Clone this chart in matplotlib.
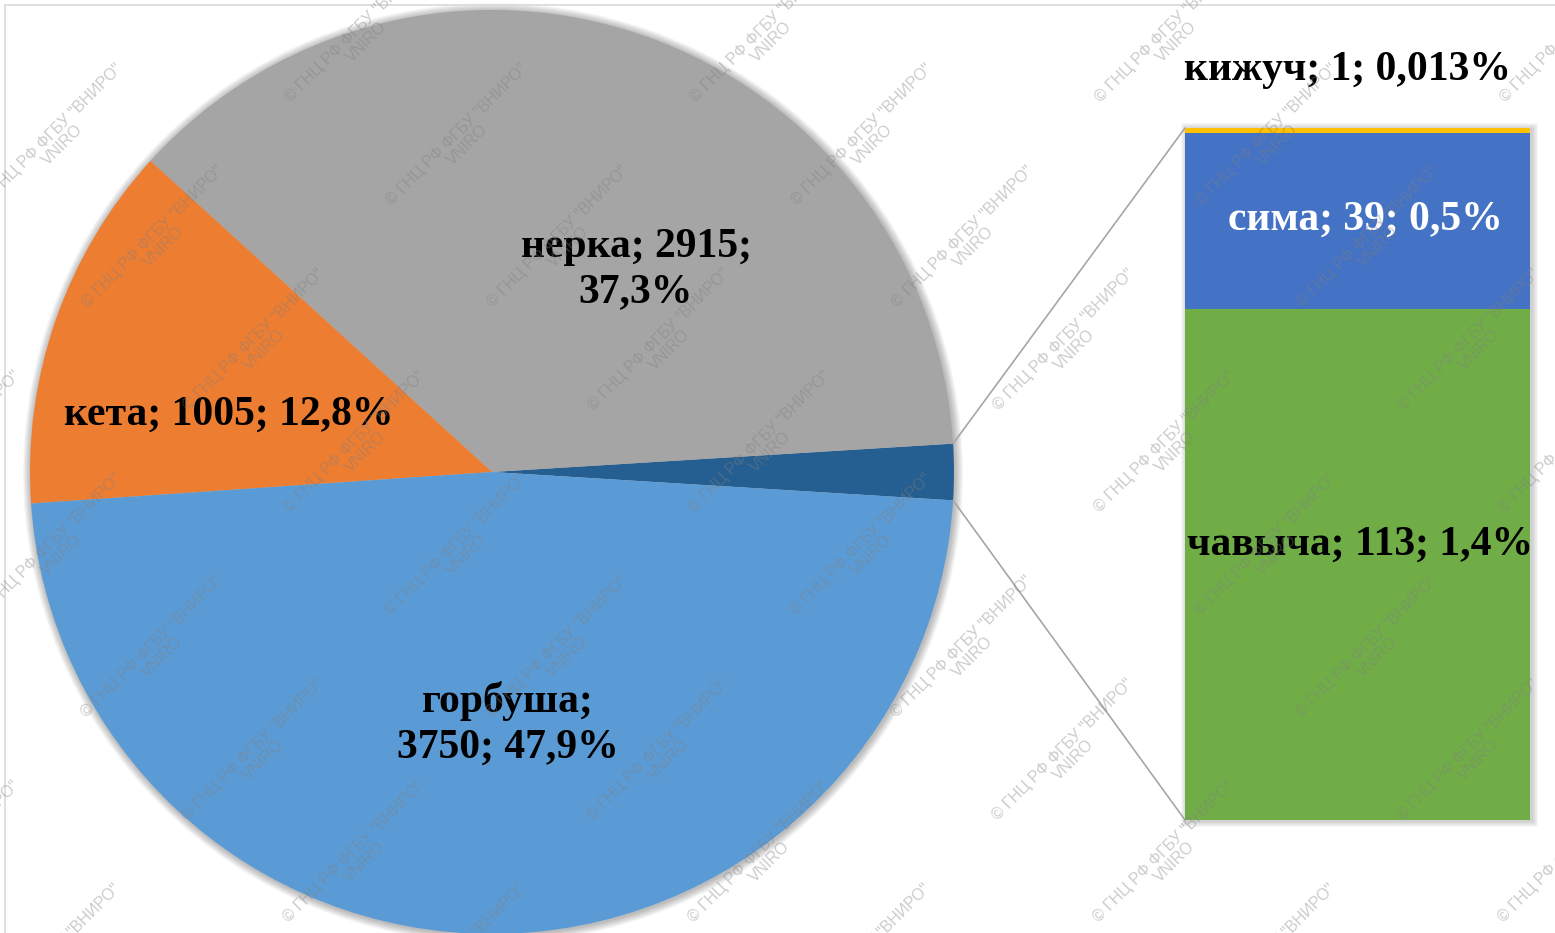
import matplotlib
matplotlib.use("Agg")
import matplotlib.pyplot as plt
from matplotlib.patches import Circle, Rectangle, ConnectionPatch
import numpy as np

# data
pie_names = ["прочие", "нерка", "кета", "горбуша"]
pie_values = [153, 2915, 1005, 3750]
pie_colors = ["#255E91", "#A5A5A5", "#ED7D31", "#5B9BD5"]

bar_names = ["чавыча", "сима", "кижуч"]
bar_values = [113, 39, 1]
bar_colors = ["#70AD47", "#4472C4", "#FFC000"]

labels_pie = ["нерка; 2915;\n37,3%", "кета; 1005; 12,8%", "горбуша;\n3750; 47,9%"]
labels_bar = ["чавыча; 113; 1,4%", "сима; 39; 0,5%", "кижуч; 1; 0,013%"]

W, H = 1555, 933
fig = plt.figure(figsize=(W / 100, H / 100), dpi=100)
ax = fig.add_axes([0, 0, 1, 1])


def ftext(x, y, s, **kw):
    # place text by picture pixel coordinates (y from the top)
    return fig.text(x / W, 1 - y / H, s, **kw)


cx, cy, r = 492, H - 472, 462
other_angle = 360.0 * pie_values[0] / sum(pie_values)

# soft shadow around the pie
for i in range(1, 9):
    ax.add_patch(Circle((cx + 1, cy - 1), r + i, color="black",
                        alpha=0.035, lw=0, zorder=0))

wedges, _ = ax.pie(pie_values, colors=pie_colors, startangle=-other_angle / 2,
                   counterclock=True, center=(cx, cy), radius=r,
                   wedgeprops=dict(linewidth=0, zorder=1))
ax.set_xlim(0, W)
ax.set_ylim(0, H)
ax.set_aspect("auto")
ax.axis("off")

# bar of the "other" slice
bx0, bx1, by0, by1 = 1185, 1530, 128, 820
ax2 = fig.add_axes([bx0 / W, (H - by1) / H, (bx1 - bx0) / W, (by1 - by0) / H])
for i in range(1, 7):
    ax.add_patch(Rectangle((bx0 - i + 2, H - by1 - i - 1), bx1 - bx0 + 2 * i, by1 - by0 + 2 * i,
                           color="black", alpha=0.03, lw=0, zorder=0))
bottom = 0
for v, c in zip(bar_values, bar_colors):
    ax2.bar(0, v, bottom=bottom, width=1, color=c, linewidth=0)
    bottom += v
ax2.set_xlim(-0.5, 0.5)
ax2.set_ylim(0, sum(bar_values))
ax2.axis("off")

# connector lines
w = wedges[0]
for ang, ycorner in [(w.theta2, sum(bar_values)), (w.theta1, 0)]:
    px = cx + r * np.cos(np.radians(ang))
    py = cy + r * np.sin(np.radians(ang))
    con = ConnectionPatch(xyA=(px, py), coordsA=ax.transData,
                          xyB=(-0.5, ycorner), coordsB=ax2.transData,
                          color="#A6A6A6", lw=1.2)
    fig.add_artist(con)

# labels
font = dict(family=["Liberation Serif", "DejaVu Serif"], fontweight="bold", fontsize=30,
            ha="center", va="center", zorder=5)
ftext(636, 270, labels_pie[0], linespacing=1.25, **font)
ftext(229, 415, labels_pie[1], **font)
ftext(508, 724, labels_pie[2], linespacing=1.25, **font)
ftext(1360, 545, labels_bar[0], **font)
ftext(1365, 220, labels_bar[1], color="white", **font)
ftext(1347, 70, labels_bar[2], **font)

# chart area border (top and left edges visible)
fig.add_artist(Rectangle((4.5 / W, -0.05), 1.1, 1.05 - 4.5 / H, transform=fig.transFigure,
                         fill=False, edgecolor="#D9D9D9", lw=1.2))

# watermark
wm = "\u00a9 ГНЦ РФ ФГБУ \"ВНИРО\"\nVNIRO"
for row in range(-2, 11):
    for k in range(-3, 5):
        x = 361 + 101 * row + 405 * k
        y = 37 + 102.5 * row
        if -80 < x < W + 80 and -80 < y < H + 80:
            ftext(x, y, wm, rotation=45, ha="center", va="center",
                  rotation_mode="anchor", fontsize=11.5, family="Liberation Sans",
                  color="#808080", alpha=0.4, multialignment="center",
                  linespacing=1.0, zorder=10)

fig.savefig("out.png", dpi=100)
